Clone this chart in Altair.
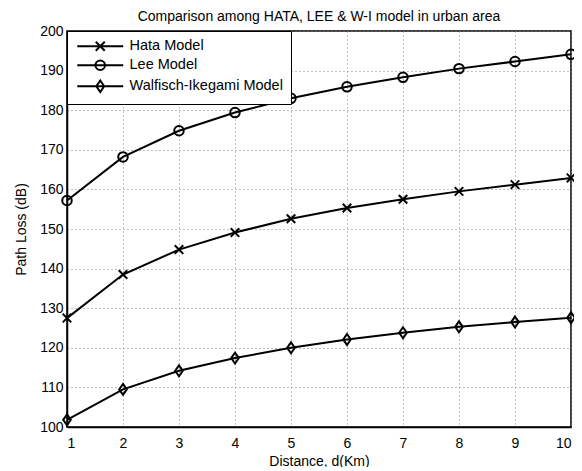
import altair as alt
import pandas as pd

# ---- data ----
distance = [1, 2, 3, 4, 5, 6, 7, 8, 9, 10]
hata = [127.5, 138.5, 144.8, 149.1, 152.6, 155.3, 157.5, 159.5, 161.2, 162.9]
lee = [157.2, 168.2, 174.8, 179.4, 183.0, 185.9, 188.3, 190.5, 192.3, 194.1]
walfisch = [101.8, 109.5, 114.2, 117.4, 120.0, 122.1, 123.8, 125.3, 126.5, 127.6]
models = ["Hata Model", "Lee Model", "Walfisch-Ikegami Model"]
y_ticks = [100, 110, 120, 130, 140, 150, 160, 170, 180, 190, 200]
title_text = "Comparison among HATA, LEE & W-I model in urban area"

rows = []
for name, vals in zip(models, [hata, lee, walfisch]):
    for d, v in zip(distance, vals):
        rows.append({"distance": d, "loss": v, "model": name})
df = pd.DataFrame(rows)

FONT = "Liberation Sans"

# marker shapes for data points
marker_paths = [
    "M-0.9,-0.9L0.9,0.9M-0.9,0.9L0.9,-0.9",
    "circle",
    "M0,-1.15L0.8,0L0,1.15L-0.8,0Z",
]
# legend symbols: line segment with marker in its middle
legend_paths = [
    "M-0.83,0L6.83,0M2.25,-0.75L3.75,0.75M2.25,0.75L3.75,-0.75",
    "M-0.83,0L6.83,0M3.8,0A0.8,0.8,0,1,1,2.2,0A0.8,0.8,0,1,1,3.8,0",
    "M-0.83,0L6.83,0M3,-0.95L3.65,0L3,0.95L2.35,0Z",
]

x_enc = alt.X(
    "distance:Q",
    scale=alt.Scale(domain=[1, 10], nice=False, zero=False),
    axis=alt.Axis(values=distance, title="Distance, d(Km)", format="d"),
)
y_enc = alt.Y(
    "loss:Q",
    scale=alt.Scale(domain=[100, 200], nice=False, zero=False),
    axis=alt.Axis(values=y_ticks, title="Path Loss (dB)", format="d"),
)

base = alt.Chart(df)

lines = base.mark_line(color="black", strokeWidth=2).encode(
    x=x_enc, y=y_enc, detail="model:N"
)

points = base.mark_point(
    filled=False, color="black", strokeWidth=2, size=90, opacity=1
).encode(
    x=x_enc,
    y=y_enc,
    shape=alt.Shape(
        "model:N", scale=alt.Scale(domain=models, range=marker_paths), legend=None
    ),
)

legend_layer = (
    base.transform_filter("datum.distance < 0")
    .mark_point(filled=False, color="black", strokeWidth=2, size=144, opacity=1)
    .encode(
        x=x_enc,
        y=y_enc,
        shape=alt.Shape(
            "model:N",
            scale=alt.Scale(domain=models, range=legend_paths),
            legend=alt.Legend(
                title=None,
                orient="top-left",
                offset=0,
                padding=8,
                strokeColor="black",
                fillColor="white",
                labelFont=FONT,
                labelFontSize=14.5,
                labelColor="black",
                labelOffset=40,
                rowPadding=1,
                symbolStrokeColor="black",
                symbolStrokeWidth=2,
                symbolSize=144,
            ),
        ),
    )
)

chart = (
    alt.layer(lines, points, legend_layer)
    .resolve_scale(shape="independent")
    .properties(
        width=504,
        height=396,
        title=alt.TitleParams(
            title_text,
            font=FONT,
            fontSize=14,
            fontWeight="normal",
            color="black",
            anchor="middle",
            baseline="alphabetic",
            offset=10,
            dy=21,
        ),
        autosize=alt.AutoSizeParams(type="none"),
        padding={"left": 59, "top": 23, "right": 3, "bottom": 40},
    )
    .configure_view(stroke="black", strokeWidth=1.5)
    .configure_axis(
        labelFont=FONT,
        labelFontSize=14,
        labelColor="black",
        titleFont=FONT,
        titleFontSize=14,
        titleFontWeight="normal",
        titleColor="black",
        domainColor="black",
        domainWidth=1.5,
        ticks=False,
        grid=True,
        gridColor="#7f7f7f",
        gridDash=[1, 3],
        gridWidth=1,
        gridOpacity=1,
    )
    .configure_axisX(labelPadding=9, titlePadding=4)
    .configure_axisY(labelPadding=4, titlePadding=11)
)

chart.save("out.html", embed_options={"renderer": "svg", "actions": False})
